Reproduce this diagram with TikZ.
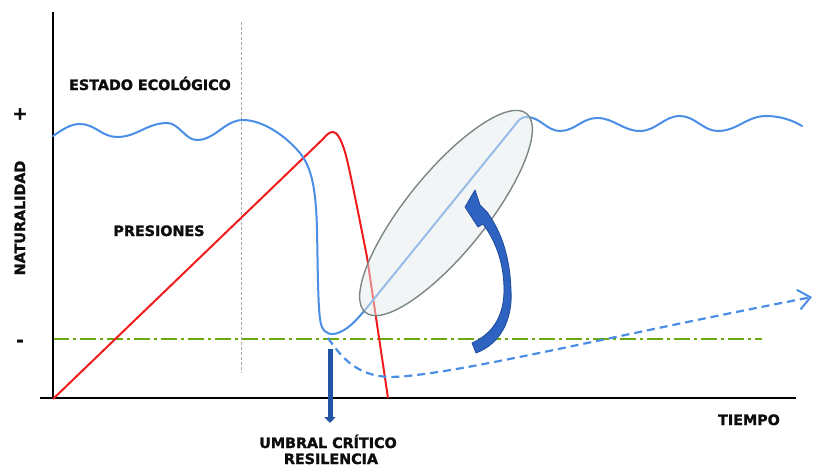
\documentclass[tikz,border=0pt]{standalone}
\usepackage{fontspec}
\setmainfont{DejaVu Sans}
\newfontfamily\heavyfont{DejaVu Sans Bold}[FakeBold=1.6]
\usetikzlibrary{arrows.meta,shapes.geometric}
\definecolor{wblue}{HTML}{4A8EE6}
\definecolor{dblue}{HTML}{2254A6}
\definecolor{ablue}{HTML}{2E63C2}
\definecolor{eblue}{HTML}{1D4A9A}
\definecolor{pred}{HTML}{EE1C1C}
\definecolor{pgreen}{HTML}{6AAA10}
\definecolor{efill}{HTML}{E6EBEB}
\definecolor{edraw}{HTML}{7C8685}
\tikzset{
  lbl/.style={font=\fontsize{14.3}{16}\selectfont\heavyfont, text=black!95, inner sep=0pt},
  sign/.style={font=\fontsize{18}{18}\selectfont\heavyfont, text=black!95, inner sep=0pt},
  axisline/.style={line width=2.6pt, black},
  stateline/.style={wblue, line width=2pt, line join=round, line cap=round},
  pressline/.style={pred, line width=2pt, line join=round},
  dashline/.style={wblue, line width=2.2pt, dash pattern=on 8pt off 5pt},
  threshold/.style={pgreen, line width=2pt, dash pattern=on 16pt off 4pt on 3pt off 4pt},
  guide/.style={gray!70, line width=0.8pt, dash pattern=on 3pt off 2pt},
  zone/.style={fill=efill, fill opacity=0.5, draw=edraw, line width=1.4pt},
}
\begin{document}
\begin{tikzpicture}[x=1pt,y=-1pt]
\useasboundingbox (0,0) rectangle (813,466);
% guide and threshold
\draw[guide] (241,22) -- (241,373);
\draw[threshold] (53,339) -- (762,339);
% axes
\coordinate (ytop) at (53,12);
\coordinate (ybot) at (53,399);
\coordinate (xl) at (40,398);
\coordinate (xr) at (796,398);
\draw[axisline] (ytop) -- (ybot);
\draw[axisline] (xl) -- (xr);
% pressures
\draw[pressline] (53,399) -- (323,139) .. controls (327,134) and (330,132) .. (333,132) .. controls (337,132) and (341,139) .. (345,152) .. controls (349,165) and (362,232) .. (367,257) -- (388,398);
% ecological state
\draw[stateline] (53,136) .. controls (62,130) and (70,124) .. (80,124)
  .. controls (95,124) and (102,137) .. (117,137)
  .. controls (137,137) and (147,123) .. (167,123)
  .. controls (179,123) and (185,140) .. (197,140)
  .. controls (215,140) and (225,120) .. (243,120)
  .. controls (262,120) and (285,135) .. (300,153)
  .. controls (312,168) and (316,190) .. (317,230)
  .. controls (318,280) and (318,320) .. (322,327)
  .. controls (325,334) and (332,336) .. (340,332)
  .. controls (350,328) and (358,318) .. (365,310)
  -- (515,125) .. controls (519,119) and (522,117) .. (527,117)
  .. controls (540,117) and (547,131) .. (560,131)
  .. controls (575,131) and (582,118) .. (597,118)
  .. controls (614,118) and (623,131) .. (640,131)
  .. controls (656,131) and (664,116) .. (680,116)
  .. controls (695,116) and (703,131) .. (718,131)
  .. controls (737,131) and (747,116) .. (766,116)
  .. controls (780,116) and (792,120) .. (802,126);
% dashed degraded path
\draw[dashline, -{Straight Barb[length=12pt,width=20pt,line width=2pt]}] (328,338) .. controls (340,355) and (355,376) .. (390,377) .. controls (450,376) and (600,338) .. (812,297);
% restoration zone
\node[zone, ellipse, minimum width=256pt, minimum height=80pt, rotate=51, inner sep=0pt] (zone) at (446,213) {};
% restoration arrow
\fill[ablue, draw=eblue, line width=0.8pt, line join=round] (476,353) .. controls (500,344) and (513,320) .. (511,290) .. controls (510,260) and (503,234) .. (487,212) -- (480,205) -- (475,190) -- (465,207) -- (478,227) -- (483,224) .. controls (495,240) and (504,262) .. (504,290) .. controls (504,317) and (492,334) .. (472,343) -- cycle;
% threshold arrow
\coordinate (thr) at (330,349);
\coordinate (thrend) at (330,423);
\draw[dblue, line width=5pt, -{Triangle[length=6pt,width=11pt]}] (thr) -- (thrend);
% labels
\node[lbl, anchor=base] (estado) at (150,90) {ESTADO ECOLÓGICO};
\node[lbl, anchor=base] (presiones) at (159,236) {PRESIONES};
\node[lbl, rotate=90] (natur) at (20,218) {NATURALIDAD};
\node[sign] (plus) at (20,114) {+};
\node[sign] (minus) at (20,343) {-};
\node[lbl, anchor=base] (tiempo) at (749,425) {TIEMPO};
\node[lbl, anchor=base] (umbral) at (328,448) {UMBRAL CRÍTICO};
\node[lbl, anchor=base] (resil) at (331,464) {RESILENCIA};
\end{tikzpicture}
\end{document}
